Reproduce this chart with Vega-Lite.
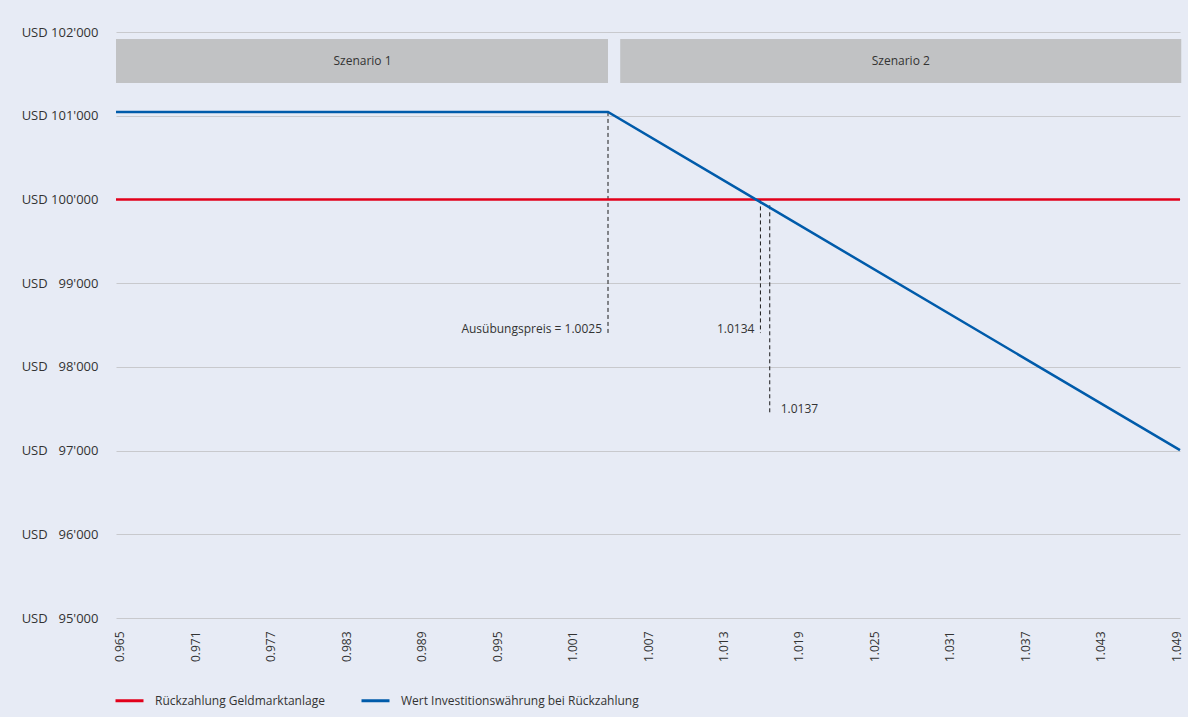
{
  "$schema": "https://vega.github.io/schema/vega-lite/v6.json",
  "width": 1064,
  "height": 586,
  "autosize": {"type": "none"},
  "padding": {"left": 116, "top": 32, "right": 8, "bottom": 99},
  "background": "#E7EBF5",
  "config": {
    "view": {"stroke": null},
    "font": "Open Sans",
    "axis": {
      "labelFont": "Open Sans",
      "labelFontSize": 12,
      "labelColor": "#333333",
      "domain": false,
      "ticks": false,
      "title": null
    },
    "axisX": {"grid": false, "labelAngle": 270, "labelPadding": 13},
    "axisY": {"grid": true, "gridColor": "#C8C9CD", "gridWidth": 1.2, "labelPadding": 18, "labelFontSize": 13}
  },
  "datasets": {
    "boxes": [
      {"x": 0.9647, "x2": 1.00382, "y": 101390, "y2": 101915, "xm": 0.9843, "label": "Szenario 1"},
      {"x": 1.00479, "x2": 1.0494, "y": 101390, "y2": 101915, "xm": 1.0271, "label": "Szenario 2"}
    ],
    "lines": [
      {"series": "Rückzahlung Geldmarktanlage", "x": 0.9647, "y": 100000},
      {"series": "Rückzahlung Geldmarktanlage", "x": 1.0493, "y": 100000},
      {"series": "Wert Investitionswährung bei Rückzahlung", "x": 0.9647, "y": 101045},
      {"series": "Wert Investitionswährung bei Rückzahlung", "x": 1.00382, "y": 101045},
      {"series": "Wert Investitionswährung bei Rückzahlung", "x": 1.0493, "y": 97005}
    ],
    "rules": [
      {"x": 1.00382, "y": 101045, "y2": 98404},
      {"x": 1.01594, "y": 100000, "y2": 98404},
      {"x": 1.01668, "y": 99930, "y2": 97449}
    ],
    "labelsLeft": [
      {"x": 1.00382, "y": 98449, "label": "Ausübungspreis = 1.0025"},
      {"x": 1.01594, "y": 98449, "label": "1.0134"}
    ],
    "labelsRight": [
      {"x": 1.01668, "y": 97497, "label": "1.0137"}
    ]
  },
  "layer": [
    {
      "data": {"name": "boxes"},
      "mark": {"type": "rect", "color": "#C1C2C4"},
      "encoding": {
        "x": {
          "field": "x", "type": "quantitative",
          "scale": {"domain": [0.9647, 1.0493], "nice": false, "zero": false, "clamp": false},
          "axis": {
            "values": [0.965, 0.971, 0.977, 0.983, 0.989, 0.995, 1.001, 1.007, 1.013, 1.019, 1.025, 1.031, 1.037, 1.043, 1.049],
            "format": ".3f"
          }
        },
        "x2": {"field": "x2"},
        "y": {
          "field": "y", "type": "quantitative",
          "scale": {"domain": [95000, 102000], "nice": false, "zero": false},
          "axis": {
            "values": [95000, 96000, 97000, 98000, 99000, 100000, 101000, 102000],
            "labelExpr": "'USD ' + (datum.value >= 100000 ? '' : '\u2007') + replace(format(datum.value, ','), ',', \"'\")"
          }
        },
        "y2": {"field": "y2"}
      }
    },
    {
      "data": {"name": "boxes"},
      "mark": {"type": "text", "fontSize": 12, "color": "#333333", "align": "center", "baseline": "middle"},
      "encoding": {
        "x": {"field": "xm", "type": "quantitative"},
        "y": {"datum": 101652, "type": "quantitative"},
        "text": {"field": "label"}
      }
    },
    {
      "data": {"name": "rules"},
      "mark": {"type": "rule", "color": "#1a1a1a", "strokeWidth": 1, "strokeDash": [4, 3]},
      "encoding": {
        "x": {"field": "x", "type": "quantitative"},
        "y": {"field": "y", "type": "quantitative"},
        "y2": {"field": "y2"}
      }
    },
    {
      "data": {"name": "lines"},
      "mark": {"type": "line", "strokeWidth": 2.5},
      "encoding": {
        "x": {"field": "x", "type": "quantitative"},
        "y": {"field": "y", "type": "quantitative"},
        "color": {
          "field": "series", "type": "nominal",
          "scale": {
            "domain": ["Rückzahlung Geldmarktanlage", "Wert Investitionswährung bei Rückzahlung"],
            "range": ["#E2001A", "#005BAA"]
          },
          "legend": {
            "title": null,
            "orient": "none",
            "legendX": -2,
            "legendY": 653,
            "direction": "horizontal",
            "symbolType": "stroke",
            "symbolSize": 784,
            "symbolStrokeWidth": 3,
            "labelFont": "Open Sans",
            "labelFontSize": 12,
            "labelColor": "#333333",
            "labelOffset": 10,
            "labelLimit": 0,
            "columnPadding": 30
          }
        }
      }
    },
    {
      "data": {"name": "labelsLeft"},
      "mark": {"type": "text", "fontSize": 12, "color": "#333333", "align": "right", "baseline": "middle", "dx": -6},
      "encoding": {
        "x": {"field": "x", "type": "quantitative"},
        "y": {"field": "y", "type": "quantitative"},
        "text": {"field": "label"}
      }
    },
    {
      "data": {"name": "labelsRight"},
      "mark": {"type": "text", "fontSize": 12, "color": "#333333", "align": "left", "baseline": "middle", "dx": 11},
      "encoding": {
        "x": {"field": "x", "type": "quantitative"},
        "y": {"field": "y", "type": "quantitative"},
        "text": {"field": "label"}
      }
    }
  ]
}
